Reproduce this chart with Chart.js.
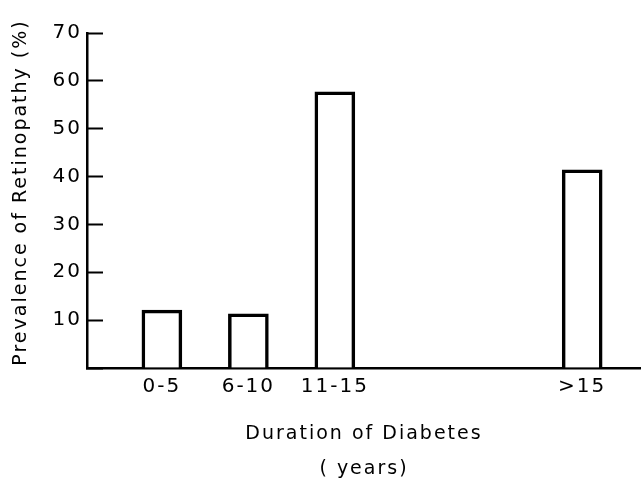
<!DOCTYPE html>
<html>
<head>
<meta charset="utf-8">
<script src="https://cdn.jsdelivr.net/npm/chart.js@4"></script>
<style>
  html, body { margin: 0; padding: 0; background: #fff; }
  #wrap { width: 641px; height: 482px; }
</style>
</head>
<body>
<div id="wrap"><canvas id="c" width="641" height="482"></canvas></div>
<script>
// Data
const categories = ['0-5', '6-10', '11-15', '>15'];
const prevalence = [12.1, 11.3, 57.7, 41.4];
const slotPositions = [1, 2, 3, 5.86];   // where each bar sits along the duration axis
const yTicks = [10, 20, 30, 40, 50, 60, 70];
const xTitle = ['Duration of Diabetes', '( years)'];
const yTitle = 'Prevalence of Retinopathy (%)';

const FONT = 'DejaVu Sans';

const spacing = {
  id: 'spacing',
  beforeLayout(chart) { chart.ctx.letterSpacing = '2px'; },
  beforeDraw(chart) { chart.ctx.letterSpacing = '2px'; }
};

new Chart(document.getElementById('c'), {
  type: 'bar',
  data: {
    datasets: [{
      data: slotPositions.map((p, i) => ({ x: p, y: prevalence[i] })),
      backgroundColor: '#ffffff',
      borderColor: '#000000',
      borderWidth: 3.5,
      barThickness: 40
    }]
  },
  options: {
    responsive: false,
    animation: false,
    layout: { padding: { left: 0, right: 0, top: 29, bottom: 0 } },
    plugins: { legend: { display: false }, tooltip: { enabled: false } },
    scales: {
      x: {
        type: 'linear',
        offset: false,
        min: 0.134,
        max: 6.54,
        afterBuildTicks(scale) { scale.ticks = slotPositions.map(v => ({ value: v })); },
        afterFit(scale) { scale.height = 114; },
        grid: { display: false, drawTicks: false, offset: false },
        border: { display: true, color: '#000', width: 2.5 },
        ticks: {
          autoSkip: false,
          maxRotation: 0,
          padding: 7,
          color: '#000',
          font: { family: FONT, size: 20 },
          callback(value) {
            const i = slotPositions.indexOf(value);
            return i >= 0 ? categories[i] : '';
          }
        },
        title: {
          display: true,
          text: xTitle,
          color: '#000',
          font: { family: FONT, size: 19, lineHeight: '34.5px' },
          padding: { top: 0, bottom: -4 }
        }
      },
      y: {
        min: 0,
        max: 70,
        afterBuildTicks(scale) { scale.ticks = [0].concat(yTicks).map(v => ({ value: v })); },
        afterFit(scale) { scale.width = 87; },
        grid: { drawOnChartArea: false, drawTicks: true, tickLength: -16, tickWidth: 2, color: '#000' },
        border: { display: true, color: '#000', width: 2.5 },
        ticks: {
          padding: 21,
          color: '#000',
          font: { family: FONT, size: 20 },
          callback(value) { return value === 0 ? '' : String(value); }
        },
        title: {
          display: true,
          text: '  ' + yTitle,
          color: '#000',
          font: { family: FONT, size: 19 },
          padding: { top: 10, bottom: 0 }
        }
      }
    }
  },
  plugins: [spacing]
});
</script>
</body>
</html>
